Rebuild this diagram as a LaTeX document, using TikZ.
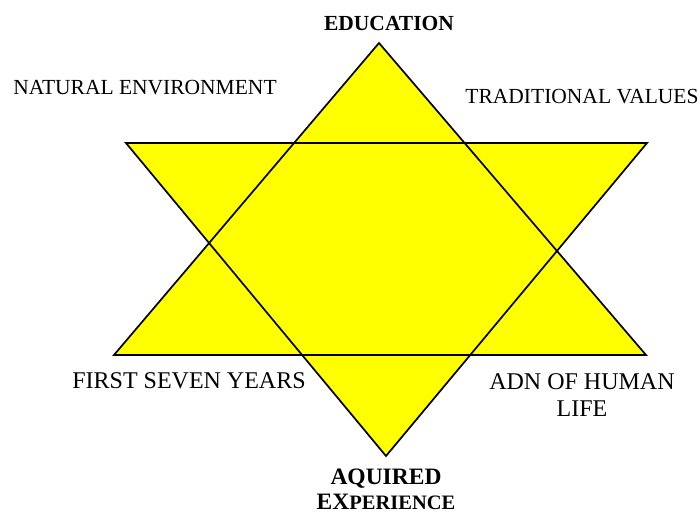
\documentclass[tikz,border=0pt]{standalone}
\usepackage{fontspec}
\setmainfont{Liberation Serif}
\definecolor{yel}{RGB}{255,255,0}
\begin{document}
\begin{tikzpicture}[x=1pt,y=-1pt,
  lab/.style={font=\fontsize{21.5}{24}\selectfont,inner sep=0pt,align=center},
  biglab/.style={font=\fontsize{24}{27}\selectfont,inner sep=0pt,align=center},
  blab/.style={font=\fontsize{21.5}{25}\selectfont\bfseries,inner sep=0pt,align=center},
  bbiglab/.style={font=\fontsize{23.5}{25}\selectfont\bfseries,inner sep=0pt,align=center}]
\useasboundingbox (0,0) rectangle (700,514);
\coordinate (ua) at (379,43);
\coordinate (ul) at (114,355);
\coordinate (ur) at (646,355);
\coordinate (dl) at (126,143);
\coordinate (dr) at (647,143);
\coordinate (da) at (386,456);
\fill[yel] (ua) -- (ul) -- (ur) -- cycle;
\fill[yel] (dl) -- (dr) -- (da) -- cycle;
\draw[line width=1.7pt,line join=miter] (ua) -- (ul) -- (ur) -- cycle;
\draw[line width=1.7pt,line join=miter] (dl) -- (dr) -- (da) -- cycle;
\node[blab] (edu) at (389,23) {EDUCATION};
\node[lab] (nat) at (145,88) {NATURAL ENVIRONMENT};
\node[lab] (trad) at (582,97) {TRADITIONAL VALUES};
\node[biglab] (first) at (189,381) {FIRST SEVEN YEARS};
\node[biglab] (adn) at (582,395) {ADN OF HUMAN\\LIFE};
\node[bbiglab] (aq) at (386,489) {AQUIRED\\EX{\fontsize{20.5}{25}\selectfont PERIENCE}};
\end{tikzpicture}
\end{document}
